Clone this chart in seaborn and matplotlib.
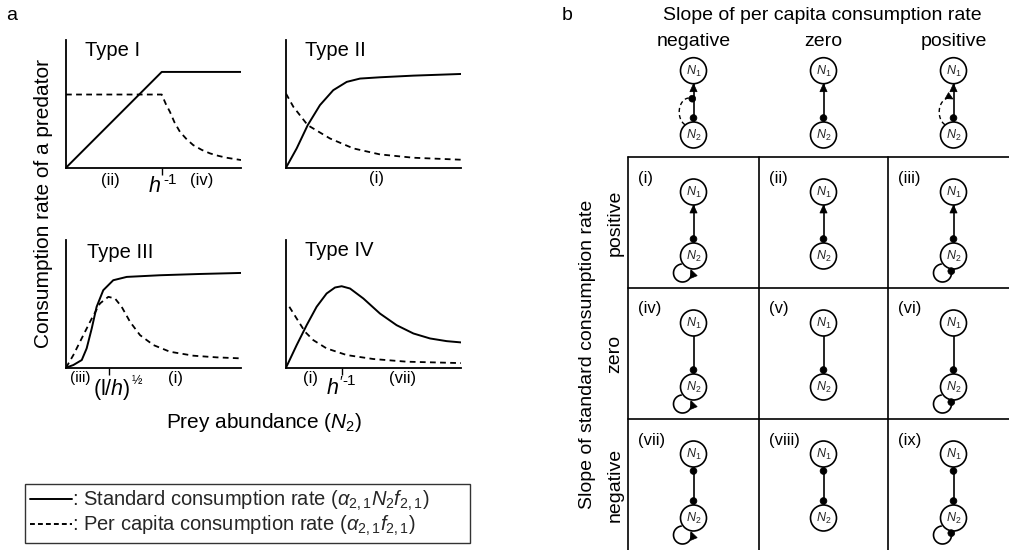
import numpy as np
import pandas as pd
import matplotlib
matplotlib.use("Agg")
import matplotlib.pyplot as plt
import seaborn as sns
from matplotlib.patches import Circle, Polygon
from matplotlib.lines import Line2D

sns.set_theme(style="white")
plt.rcParams["font.family"] = ["Liberation Sans", "DejaVu Sans"]
plt.rcParams["mathtext.fontset"] = "custom"
plt.rcParams["mathtext.rm"] = "Liberation Sans"
plt.rcParams["mathtext.it"] = "Liberation Sans:italic"
plt.rcParams["mathtext.bf"] = "Liberation Sans:bold"

# ---------------- data (axes normalised 0..1) -------------
type_names = ["Type I", "Type II", "Type III", "Type IV"]

t1_std_x = [0.0, 0.547, 1.0]
t1_std_y = [0.0, 0.75, 0.75]
t1_pc_x = [0.0, 0.547, 0.570, 0.594, 0.620, 0.651, 0.690, 0.727, 0.775, 0.823, 0.870, 0.918, 1.0]
t1_pc_y = [0.573, 0.573, 0.50, 0.437, 0.355, 0.281, 0.222, 0.177, 0.140, 0.112, 0.093, 0.078, 0.06]

t2_std_x = [0.0, 0.061, 0.124, 0.194, 0.27, 0.347, 0.423, 0.537, 0.728, 1.0]
t2_std_y = [0.0, 0.151, 0.333, 0.49, 0.607, 0.672, 0.698, 0.708, 0.721, 0.734]
t2_pc_x = [0.0, 0.042, 0.124, 0.251, 0.385, 0.537, 0.728, 1.0]
t2_pc_y = [0.58, 0.477, 0.333, 0.229, 0.151, 0.104, 0.078, 0.0625]

t3_std_x = [0.0, 0.042, 0.09, 0.118, 0.147, 0.175, 0.213, 0.27, 0.347, 0.537, 0.766, 1.0]
t3_std_y = [0.0, 0.021, 0.06, 0.151, 0.307, 0.477, 0.607, 0.685, 0.711, 0.724, 0.734, 0.742]
t3_pc_x = [0.0, 0.042, 0.099, 0.147, 0.194, 0.242, 0.28, 0.318, 0.366, 0.423, 0.5, 0.594, 0.728, 0.861, 1.0]
t3_pc_y = [0.0, 0.099, 0.255, 0.385, 0.503, 0.555, 0.542, 0.477, 0.359, 0.255, 0.177, 0.125, 0.094, 0.081, 0.073]

t4_std_x = [0.0, 0.061, 0.118, 0.175, 0.232, 0.28, 0.318, 0.366, 0.442, 0.537, 0.632, 0.728, 0.823, 0.918, 1.0]
t4_std_y = [0.0, 0.177, 0.333, 0.477, 0.581, 0.628, 0.638, 0.62, 0.542, 0.424, 0.333, 0.268, 0.229, 0.208, 0.198]
t4_pc_x = [0.019, 0.061, 0.109, 0.156, 0.232, 0.347, 0.499, 0.69, 1.0]
t4_pc_y = [0.477, 0.385, 0.281, 0.216, 0.151, 0.099, 0.068, 0.047, 0.036]

std_x = [t1_std_x, t2_std_x, t3_std_x, t4_std_x]
std_y = [t1_std_y, t2_std_y, t3_std_y, t4_std_y]
pc_x = [t1_pc_x, t2_pc_x, t3_pc_x, t4_pc_x]
pc_y = [t1_pc_y, t2_pc_y, t3_pc_y, t4_pc_y]
tick_pos = [[0.547], [], [0.248], [0.318]]

legend_labels = [": Standard consumption rate ($\\alpha_{2,1}N_2f_{2,1}$)",
                 ": Per capita consumption rate ($\\alpha_{2,1}f_{2,1}$)"]

col_labels = ["negative", "zero", "positive"]
row_labels = ["positive", "zero", "negative"]
cell_labels = [["(i)", "(ii)", "(iii)"], ["(iv)", "(v)", "(vi)"], ["(vii)", "(viii)", "(ix)"]]
header_loop = ["dot", None, "arrow"]      # dashed loop end in header
row_edge_end = ["arrow", "line", "dot"]   # effect of prey on predator (N1 end)
col_loop_end = ["arrow", None, "dot"]     # self-loop of prey

# ---------------- figure ----------------
W, H = 1009, 550
fig = plt.figure(figsize=(W / 100, H / 100), dpi=100)
ov = fig.add_axes([0, 0, 1, 1], zorder=0)
ov.set_xlim(0, W)
ov.set_ylim(H, 0)
ov.axis("off")


def px_axes(x0, y0, x1, y1):
    a = fig.add_axes([x0 / W, 1 - y1 / H, (x1 - x0) / W, (y1 - y0) / H], zorder=2)
    a.patch.set_alpha(0)
    return a


boxes = [(66, 40, 241, 167.7), (286, 40, 461, 167.7), (66, 240, 241, 367.7), (286, 240, 461, 367.7)]
title_pos = [(0.109, 0.92), (0.109, 0.92), (0.118, 0.906), (0.109, 0.92)]
dash = (0, (3.2, 2.4))
for i, b in enumerate(boxes):
    ax = px_axes(*b)
    sns.lineplot(x=std_x[i], y=std_y[i], ax=ax, color="black", lw=1.4,
                 estimator=None, sort=False)
    sns.lineplot(x=pc_x[i], y=pc_y[i], ax=ax, color="black", lw=1.3,
                 estimator=None, sort=False, linestyle=dash)
    ax.set_xlim(0, 1)
    ax.set_ylim(0, 1)
    for s in ["top", "right"]:
        ax.spines[s].set_visible(False)
    for s in ["left", "bottom"]:
        ax.spines[s].set_color("black")
        ax.spines[s].set_linewidth(1.3)
    ax.set_yticks([])
    ax.set_xticks(tick_pos[i])
    ax.tick_params(axis="x", bottom=True, length=5, width=1.0, color="black",
                   direction="out", labelbottom=False)
    ax.set_xlabel("")
    ax.set_ylabel("")
    ax.text(title_pos[i][0], title_pos[i][1], type_names[i], transform=ax.transAxes,
            fontsize=14.5, ha="left", va="center", color="black")

# annotations under the curve axes
tk = dict(color="black", ha="center", va="center")
ov.text(110, 180, "(ii)", fontsize=12, **tk)
ov.text(154, 187, "$h$", fontsize=15.5, **tk)
ov.text(170, 180.5, "-1", fontsize=11, **tk)
ov.text(201.5, 180, "(iv)", fontsize=12, **tk)
ov.text(376.5, 179, "(i)", fontsize=12, **tk)
ov.text(80, 378, "(iii)", fontsize=11, **tk)
ov.text(111.5, 389, "(l/$h$)", fontsize=15.5, **tk)
ov.text(136.5, 381, "½", fontsize=9, **tk)
ov.text(175.5, 379, "(i)", fontsize=12, **tk)
ov.text(310.5, 379, "(i)", fontsize=12, **tk)
ov.text(335, 389, "$h'$", fontsize=15.5, **tk)
ov.text(349, 381, "-1", fontsize=11, **tk)
ov.text(402.5, 379, "(vii)", fontsize=12, **tk)

ov.text(44, 203, "Consumption rate of a predator", fontsize=15, rotation=90, **tk)
ov.text(264.5, 423, "Prey abundance ($N_2$)", fontsize=15, **tk)
ov.text(12, 16, "a", fontsize=14, **tk)
ov.text(567, 15, "b", fontsize=14, **tk)

handles = [Line2D([], [], color="black", lw=1.4),
           Line2D([], [], color="black", lw=1.4, linestyle=(0, (2.5, 1.6)))]
leg = fig.legend(handles, legend_labels, loc="upper left", mode="expand",
                 bbox_to_anchor=(25 / W, 1 - 548 / H, 445 / W, 64 / H), frameon=True,
                 fancybox=False, edgecolor="black", fontsize=14.5, handlelength=2.1,
                 handletextpad=0.0, labelspacing=0.05, borderpad=0.25, borderaxespad=0)
leg.get_frame().set_linewidth(1.0)

# ---------------- panel b ----------------
LW = 1.2
col_x = [693.5, 823.5, 953.5]
row_top = [157, 288, 419]
R = 13

ov.text(822, 15, "Slope of per capita consumption rate", fontsize=14, **tk)
for j, lab in enumerate(col_labels):
    ov.text(col_x[j], 42, lab, fontsize=14, **tk)
for i, lab in enumerate(row_labels):
    ov.text(615, row_top[i] + 65.5, lab, fontsize=14, rotation=90, **tk)
ov.text(587, 354, "Slope of standard consumption rate", fontsize=14, rotation=90, **tk)

# grid
ov.plot([628, W], [157, 157], color="black", lw=LW)
for y in [288, 419]:
    ov.plot([628, W], [y, y], color="black", lw=LW)
for x in [628, 759, 888]:
    ov.plot([x, x], [157, H], color="black", lw=LW)


def node(x, y, sub):
    ov.add_patch(Circle((x, y), R, fc="white", ec="black", lw=LW, zorder=3))
    ov.text(x, y + 0.5, "$N_%s$" % sub, fontsize=9, ha="center", va="center", zorder=4)


def dot(x, y, r=3.4):
    ov.add_patch(Circle((x, y), r, fc="black", ec="black", lw=0.5, zorder=5))


def arrowhead(tip, d, L=8, w=3.6):
    d = np.asarray(d, float)
    d = d / np.hypot(*d)
    n = np.array([-d[1], d[0]])
    tip = np.asarray(tip, float)
    base = tip - d * L
    ov.add_patch(Polygon([tip, base + n * w, base - n * w], closed=True,
                         fc="black", ec="black", lw=0.5, zorder=5))


def link(x, y1, y2, end):
    ov.plot([x, x], [y2 - R, y1 + R], color="black", lw=LW, zorder=2)
    dot(x, y2 - R - 4)
    if end == "arrow":
        arrowhead((x, y1 + R), (0, -1))
    elif end == "dot":
        dot(x, y1 + R + 4)


def self_loop(x, y2, end):
    cx, cy, r = x - 11, y2 + 17, 9
    th = np.deg2rad(np.linspace(262, -12, 80))
    px = cx + r * np.cos(th)
    py = cy + r * np.sin(th)
    ov.plot(px, py, color="black", lw=LW, zorder=2)
    if end == "arrow":
        te = np.deg2rad(-22)
        tip = (cx + r * np.cos(te), cy + r * np.sin(te))
        arrowhead(tip, (np.sin(te), -np.cos(te)), L=8, w=3.6)
    else:
        te = np.deg2rad(-12)
        dot(cx + r * np.cos(te), cy + r * np.sin(te))


def dashed_loop(x, y2, end):
    cx, cy, rx, ry = x - 4.3, y2 - 23, 10, 14
    th = np.deg2rad(np.linspace(115, 285, 80))
    px = cx + rx * np.cos(th)
    py = cy + ry * np.sin(th)
    ov.plot(px, py, color="black", lw=1.0, linestyle=(0, (3, 2.2)), zorder=2)
    if end == "arrow":
        te = np.deg2rad(292)
        tip = (cx + rx * np.cos(te), cy + ry * np.sin(te))
        arrowhead(tip, (-rx * np.sin(te), ry * np.cos(te)), L=7, w=3.4)
    else:
        te = np.deg2rad(288)
        dot(cx + rx * np.cos(te), cy + ry * np.sin(te))


# header
for j in range(3):
    x = col_x[j]
    y1, y2 = 70.7, 135
    link(x, y1, y2, "arrow")
    if header_loop[j] is not None:
        dashed_loop(x, y2, header_loop[j])
    node(x, y1, "1")
    node(x, y2, "2")

# cells
for i in range(3):
    for j in range(3):
        x = col_x[j]
        top = row_top[i]
        y1, y2 = top + 35, top + 99
        ov.text([628, 759, 888][j] + 10, top + 21, cell_labels[i][j], fontsize=12,
                ha="left", va="center", color="black")
        link(x, y1, y2, row_edge_end[i])
        if col_loop_end[j] is not None:
            self_loop(x, y2, col_loop_end[j])
        node(x, y1, "1")
        node(x, y2, "2")

fig.savefig("out.png", dpi=100)
